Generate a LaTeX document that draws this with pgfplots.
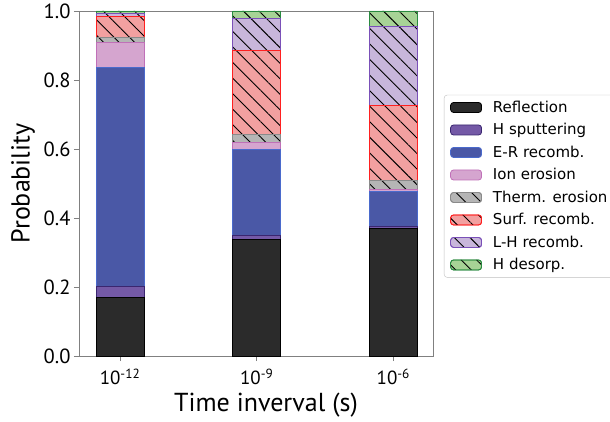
\documentclass[border=0pt]{standalone}
\usepackage{pgfplots}
\pgfplotsset{compat=1.18}
\usepackage{fontspec}
\setmainfont{PT Sans}
\newfontfamily\legfont{DejaVu Sans}
\usetikzlibrary{patterns.meta}

\definecolor{cRef}{HTML}{2B2B2B}
\definecolor{cRefE}{HTML}{000000}
\definecolor{cHs}{HTML}{7459A6}
\definecolor{cHsE}{HTML}{3A2670}
\definecolor{cER}{HTML}{4A58A6}
\definecolor{cERE}{HTML}{4A6ACC}
\definecolor{cIon}{HTML}{D5A5CF}
\definecolor{cIonE}{HTML}{C070B8}
\definecolor{cTh}{HTML}{B5B5B5}
\definecolor{cThE}{HTML}{8A8A8A}
\definecolor{cSu}{HTML}{F2A0A0}
\definecolor{cSuE}{HTML}{FF2020}
\definecolor{cLH}{HTML}{C8B6DB}
\definecolor{cLHE}{HTML}{7A50B8}
\definecolor{cHd}{HTML}{A7D396}
\definecolor{cHdE}{HTML}{2A8A40}

\tikzset{hatch/.style={postaction={pattern={Lines[angle=-45,distance=11pt,line width=0.9pt]},pattern color=black}}}

\begin{document}
\begin{tikzpicture}
\path[use as bounding box] (-79pt,-65pt) rectangle (531pt,356pt);
\begin{axis}[
  at={(0,0)}, anchor=south west,
  scale only axis, width=354pt, height=345pt,
  ybar stacked, bar width=0.35,
  xmin=-0.30, xmax=2.29, ymin=0, ymax=1,
  xtick={0,1,2},
  xticklabels={10\textsuperscript{-12},10\textsuperscript{-9},10\textsuperscript{-6}},
  ytick={0,0.2,0.4,0.6,0.8,1.0},
  /pgf/number format/assume math mode=true,
  yticklabel style={font=\fontsize{20.5}{24}\selectfont,
    /pgf/number format/fixed, /pgf/number format/fixed zerofill, /pgf/number format/precision=1},
  xticklabel style={font=\fontsize{19}{22}\selectfont, yshift=-4pt},
  label style={font=\fontsize{26}{30}\selectfont},
  xlabel style={yshift=-4pt, xshift=10pt, inner sep=1pt},
  ylabel style={yshift=2pt},
  xlabel={Time inverval (s)}, ylabel={Probability},
  tick align=outside, tick pos=left, major tick length=5pt,
  axis line style={gray}, tick style={gray, line width=0.8pt},
  legend style={at={(1.031,0.757)}, anchor=north west, draw=gray!50,
    rounded corners=3pt, font=\legfont\fontsize{15}{18}\selectfont,
    row sep=5.6pt, inner xsep=6pt, inner ysep=4pt, cells={anchor=west},
    /tikz/every odd column/.append style={column sep=9pt}},
  legend cell align=left,
  legend image code/.code={\draw[#1] (0pt,-5pt) rectangle (31pt,5pt);},
]
\addplot[fill=cRef, draw=cRefE, line width=0.8pt] coordinates {(0,0.169) (1,0.339) (2,0.370)};
\addlegendentry{Reflection}
\addplot[fill=cHs, draw=cHsE, line width=0.8pt] coordinates {(0,0.032) (1,0.010) (2,0.005)};
\addlegendentry{H sputtering}
\addplot[fill=cER, draw=cERE, line width=0.8pt] coordinates {(0,0.636) (1,0.250) (2,0.103)};
\addlegendentry{E-R recomb.}
\addplot[fill=cIon, draw=cIonE, line width=0.8pt] coordinates {(0,0.071) (1,0.019) (2,0.005)};
\addlegendentry{Ion erosion}
\addplot[fill=cTh, draw=cThE, line width=0.8pt, hatch] coordinates {(0,0.016) (1,0.025) (2,0.027)};
\addlegendentry{Therm. erosion}
\addplot[fill=cSu, draw=cSuE, line width=0.8pt, hatch] coordinates {(0,0.061) (1,0.242) (2,0.215)};
\addlegendentry{Surf. recomb.}
\addplot[fill=cLH, draw=cLHE, line width=0.8pt, hatch] coordinates {(0,0.007) (1,0.094) (2,0.230)};
\addlegendentry{L-H recomb.}
\addplot[fill=cHd, draw=cHdE, line width=0.8pt, hatch] coordinates {(0,0.008) (1,0.021) (2,0.045)};
\addlegendentry{H desorp.}
\end{axis}
\end{tikzpicture}
\end{document}
